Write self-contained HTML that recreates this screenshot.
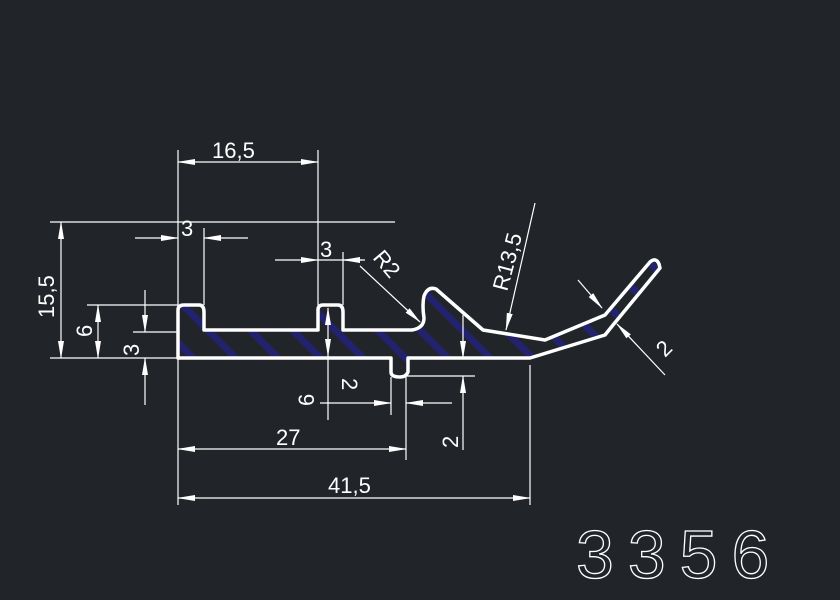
<!DOCTYPE html>
<html><head><meta charset="utf-8"><style>
html,body{margin:0;padding:0;background:#212529;}
svg{display:block}
text{font-family:"Liberation Sans",sans-serif;fill:#fff;}
text.big{fill:none;stroke:#fff;stroke-width:1.3;letter-spacing:14px;}
</style></head><body>
<svg width="840" height="600" viewBox="0 0 840 600" xmlns="http://www.w3.org/2000/svg">
<defs>
<pattern id="h" patternUnits="userSpaceOnUse" width="30" height="30" patternTransform="rotate(-45)">
<rect x="0" y="0" width="30" height="30" fill="#212529"/>
<rect x="0" y="0" width="7" height="30" fill="#22226e"/>
</pattern>
<marker id="a" markerWidth="18" markerHeight="8" refX="17" refY="4" orient="auto" markerUnits="userSpaceOnUse">
<path d="M0,1 L18,4 L0,7 Z" fill="#fff"/></marker>
</defs>
<rect width="840" height="600" fill="#212529"/>
<path d="M178,358 L178,310 Q178,305 184,305 L199,305 Q204,305 204,312 L204,330 L318,330 L318,310 Q318,305 323,305 L338,305 Q343,305 343,312 L343,330 L412,330 Q424,328 424,318 Q422,305 424,296 Q428,286 436,289 L483,330 L545,340 L605,315 L650,262 Q656,257 659,264 L660,268 L613,325 L605,335 L530,358 L408,358 L408,372 Q406,377 400,377 Q391,377 391,372 L391,358 Z" fill="url(#h)" stroke="#fff" stroke-width="3.5" stroke-linejoin="round"/>
<g stroke="#fff" stroke-width="1.2" fill="none">
<line x1="178" y1="150" x2="178" y2="505"/>
<line x1="318" y1="150" x2="318" y2="305"/>
<line x1="50" y1="222" x2="395" y2="222"/>
<line x1="50" y1="358" x2="178" y2="358"/>
<line x1="87" y1="305" x2="178" y2="305"/>
<line x1="133" y1="332" x2="178" y2="332"/>
<line x1="204" y1="228" x2="204" y2="305"/>
<line x1="343" y1="252" x2="343" y2="305"/>
<line x1="391" y1="377" x2="391" y2="415"/>
<line x1="406" y1="377" x2="406" y2="460"/>
<line x1="406" y1="376" x2="475" y2="376"/>
<line x1="530" y1="365" x2="530" y2="505"/>
<line x1="248" y1="162" x2="178" y2="162" marker-end="url(#a)"/>
<line x1="248" y1="162" x2="318" y2="162" marker-end="url(#a)"/>
<line x1="61" y1="290" x2="61" y2="222" marker-end="url(#a)"/>
<line x1="61" y1="290" x2="61" y2="358" marker-end="url(#a)"/>
<line x1="98" y1="330" x2="98" y2="305" marker-end="url(#a)"/>
<line x1="98" y1="330" x2="98" y2="358" marker-end="url(#a)"/>
<line x1="145" y1="290" x2="145" y2="332" marker-end="url(#a)"/>
<line x1="145" y1="405" x2="145" y2="358" marker-end="url(#a)"/>
<line x1="135" y1="238" x2="178" y2="238" marker-end="url(#a)"/>
<line x1="248" y1="238" x2="204" y2="238" marker-end="url(#a)"/>
<line x1="275" y1="260" x2="318" y2="260" marker-end="url(#a)"/>
<line x1="318" y1="260" x2="362" y2="260"/>
<line x1="365" y1="260" x2="343" y2="260" marker-end="url(#a)"/>
<line x1="328" y1="330" x2="328" y2="308" marker-end="url(#a)"/>
<line x1="328" y1="330" x2="328" y2="356" marker-end="url(#a)"/>
<line x1="328" y1="356" x2="328" y2="420"/>
<line x1="360" y1="266" x2="420" y2="322" marker-end="url(#a)"/>
<line x1="535" y1="203" x2="506" y2="330" marker-end="url(#a)"/>
<line x1="578" y1="280" x2="602" y2="308" marker-end="url(#a)"/>
<line x1="665" y1="375" x2="617" y2="324" marker-end="url(#a)"/>
<line x1="320" y1="403" x2="391" y2="403" marker-end="url(#a)"/>
<line x1="452" y1="403" x2="406" y2="403" marker-end="url(#a)"/>
<line x1="463" y1="315" x2="463" y2="358" marker-end="url(#a)"/>
<line x1="463" y1="450" x2="463" y2="376" marker-end="url(#a)"/>
<line x1="290" y1="449" x2="178" y2="449" marker-end="url(#a)"/>
<line x1="290" y1="449" x2="406" y2="449" marker-end="url(#a)"/>
<line x1="355" y1="498" x2="178" y2="498" marker-end="url(#a)"/>
<line x1="355" y1="498" x2="530" y2="498" marker-end="url(#a)"/>
</g>
<g font-size="22">
<text x="212" y="158">16,5</text>
<text x="181" y="236">3</text>
<text x="320" y="257">3</text>
<text transform="translate(54,318) rotate(-90)">15,5</text>
<text transform="translate(92,337) rotate(-90)">6</text>
<text transform="translate(139,356) rotate(-90)">3</text>
<text transform="translate(372,258) rotate(50)">R2</text>
<text transform="translate(507,292) rotate(-75)">R13,5</text>
<text transform="translate(665,358) rotate(-45)">2</text>
<text transform="translate(342,378) rotate(90)">2</text>
<text transform="translate(458,448) rotate(-90)">2</text>
<text transform="translate(314,406) rotate(-90)">6</text>
<text x="276" y="445">27</text>
<text x="328" y="493">41,5</text>
</g>
<text class="big" x="576" y="578" font-size="68">3356</text>
</svg>
</body></html>
